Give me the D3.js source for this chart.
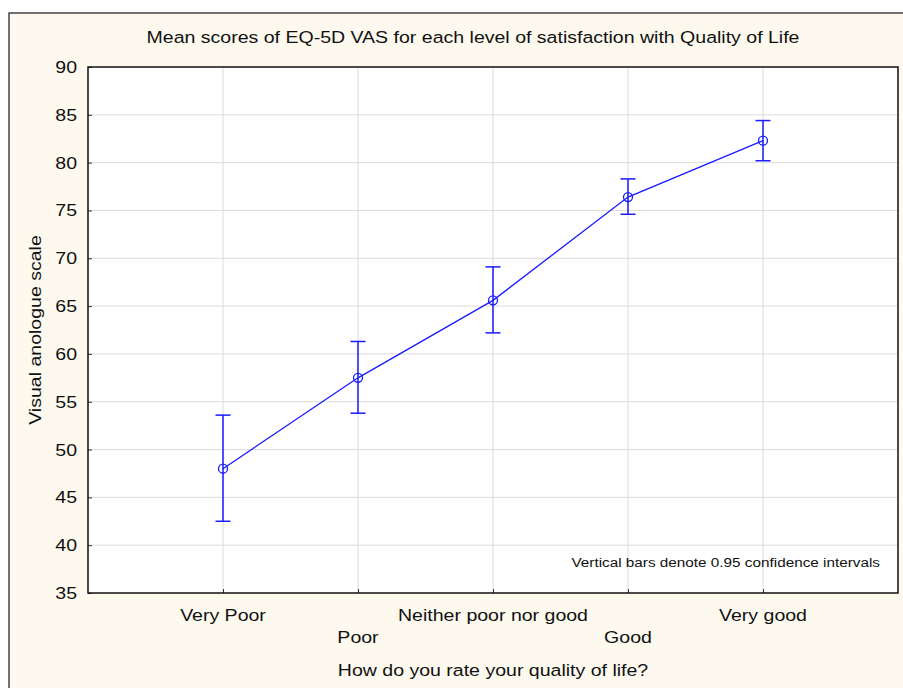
<!DOCTYPE html>
<html>
<head>
<meta charset="utf-8">
<script src="https://cdn.jsdelivr.net/npm/d3@7"></script>
<style>
  html, body { margin: 0; padding: 0; background: #ffffff; }
  svg { display: block; font-family: "Liberation Sans", Arial, sans-serif; }
</style>
</head>
<body>
<div id="chart"></div>
<script>
// categories and values
const categories = ["Very Poor", "Poor", "Neither poor nor good", "Good", "Very good"];
const means = [48.0, 57.5, 65.6, 76.4, 82.3];
const upper = [53.6, 61.3, 69.1, 78.3, 84.4];
const lower = [42.5, 53.8, 62.2, 74.6, 80.2];
const yTicks = [35, 40, 45, 50, 55, 60, 65, 70, 75, 80, 85, 90];

const W = 903, H = 688;
const margin = {top: 67, right: 5, bottom: 95, left: 88};
const width = 898 - margin.left;
const height = 593 - margin.top;
const stretch = 1.15;   // text in the original is a bit wide

const svg = d3.select("#chart").append("svg")
    .attr("width", W)
    .attr("height", H);

// helper: text placed at x,y and stretched horizontally
function label(sel, x, y, txt, size, anchor, rot) {
    return sel.append("text")
        .attr("transform", "translate(" + x + "," + y + ")" + (rot ? " rotate(" + rot + ")" : "") + " scale(" + stretch + ",1)")
        .attr("text-anchor", anchor)
        .style("font-size", size + "px")
        .attr("fill", "#111")
        .text(txt);
}

// outer beige frame
svg.append("rect")
    .attr("x", 9).attr("y", 13)
    .attr("width", 910).attr("height", 690)
    .attr("fill", "#fdf9ef")
    .attr("stroke", "#444")
    .attr("stroke-width", 1.5);

const g = svg.append("g")
    .attr("transform", "translate(" + margin.left + "," + margin.top + ")");

g.append("rect")
    .attr("width", width).attr("height", height)
    .attr("fill", "#ffffff");

// x positions: categories sit at 1..5 of a 0..6 range
const data = categories.map((c, i) => ({cat: c, idx: i + 1, mean: means[i], hi: upper[i], lo: lower[i]}));
const xScale = d3.scaleLinear().domain([0, 6]).range([0, width]);
const yScale = d3.scaleLinear().domain([35, 90]).range([height, 0]);

// grid lines
g.append("g")
    .selectAll("line")
    .data(yTicks.slice(1, -1))
    .join("line")
    .attr("x1", 0).attr("x2", width)
    .attr("y1", d => yScale(d)).attr("y2", d => yScale(d))
    .attr("stroke", "#dcdcdc").attr("stroke-width", 1);

g.append("g")
    .selectAll("line")
    .data(data)
    .join("line")
    .attr("x1", d => xScale(d.idx)).attr("x2", d => xScale(d.idx))
    .attr("y1", 0).attr("y2", height)
    .attr("stroke", "#dcdcdc").attr("stroke-width", 1);

// Y axis, ticks pointing inward
const yAxis = g.append("g")
    .call(d3.axisLeft(yScale).tickValues(yTicks).tickSizeInner(-4).tickSizeOuter(0).tickFormat(""));
yAxis.select(".domain").remove();
yAxis.selectAll("line").attr("stroke", "#333");
const yLab = g.append("g");
yTicks.forEach(t => label(yLab, -11, yScale(t) + 6, t, 17, "end"));

// X axis ticks and staggered labels
const xAxis = g.append("g")
    .attr("transform", "translate(0," + height + ")")
    .call(d3.axisBottom(xScale).tickValues(data.map(d => d.idx)).tickSizeInner(-4).tickSizeOuter(0).tickFormat(""));
xAxis.select(".domain").remove();
xAxis.selectAll("line").attr("stroke", "#333");

const xLab = g.append("g");
data.forEach((d, i) => label(xLab, xScale(d.idx), height + (i % 2 === 0 ? 28 : 50), d.cat, 17, "middle"));

// plot border
g.append("rect")
    .attr("width", width).attr("height", height)
    .attr("fill", "none")
    .attr("stroke", "#111")
    .attr("stroke-width", 1.5);

// error bars
const blue = "#1a1aff";
const capHalf = 7.5;
const bars = g.append("g").attr("stroke", blue).attr("stroke-width", 1.5);
bars.selectAll(".stem")
    .data(data)
    .join("line")
    .attr("class", "stem")
    .attr("x1", d => xScale(d.idx)).attr("x2", d => xScale(d.idx))
    .attr("y1", d => yScale(d.hi)).attr("y2", d => yScale(d.lo));
bars.selectAll(".caphi")
    .data(data)
    .join("line")
    .attr("class", "caphi")
    .attr("x1", d => xScale(d.idx) - capHalf).attr("x2", d => xScale(d.idx) + capHalf)
    .attr("y1", d => yScale(d.hi)).attr("y2", d => yScale(d.hi));
bars.selectAll(".caplo")
    .data(data)
    .join("line")
    .attr("class", "caplo")
    .attr("x1", d => xScale(d.idx) - capHalf).attr("x2", d => xScale(d.idx) + capHalf)
    .attr("y1", d => yScale(d.lo)).attr("y2", d => yScale(d.lo));

// mean line
g.append("path")
    .datum(data)
    .attr("fill", "none")
    .attr("stroke", blue)
    .attr("stroke-width", 1.3)
    .attr("d", d3.line()
        .x(d => xScale(d.idx))
        .y(d => yScale(d.mean)));

// mean circles
g.selectAll(".dot")
    .data(data)
    .join("circle")
    .attr("class", "dot")
    .attr("cx", d => xScale(d.idx))
    .attr("cy", d => yScale(d.mean))
    .attr("r", 4.5)
    .attr("fill", "none")
    .attr("stroke", blue)
    .attr("stroke-width", 1.3);

// texts
label(svg, 473, 43, "Mean scores of EQ-5D VAS for each level of satisfaction with Quality of Life", 17, "middle");
label(svg, 41, margin.top + height / 2, "Visual anologue scale", 17, "middle", -90);
label(svg, margin.left + width / 2, 676, "How do you rate your quality of life?", 17, "middle");
label(g, width - 18, height - 26, "Vertical bars denote 0.95 confidence intervals", 13.3, "end");
</script>
</body>
</html>
